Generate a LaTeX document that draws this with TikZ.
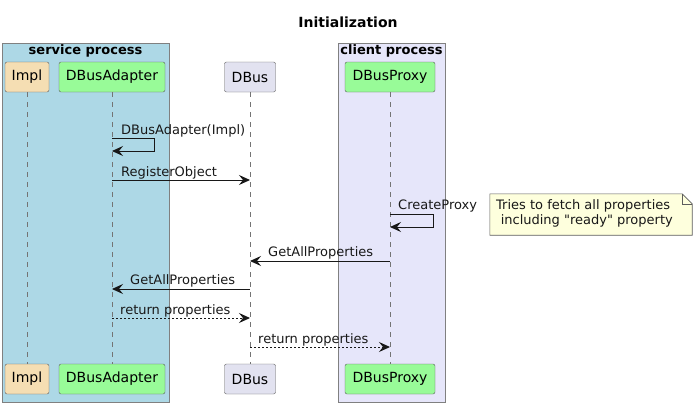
\documentclass[tikz,border=0pt]{standalone}
\usepackage{fontspec}
\setmainfont{DejaVu Sans}
\usetikzlibrary{arrows.meta,positioning}
\definecolor{servicebg}{HTML}{ADD8E6}
\definecolor{clientbg}{HTML}{E6E6FA}
\definecolor{implfill}{HTML}{F5DEB3}
\definecolor{greenfill}{HTML}{98FB98}
\definecolor{busfill}{HTML}{E2E2F0}
\definecolor{notefill}{HTML}{FEFFDD}
\definecolor{ink}{HTML}{181818}
\tikzstyle{part}=[draw=ink!70, rounded corners=2pt, minimum height=30pt,
  inner sep=0pt, font=\fontsize{14}{16}\selectfont]
\tikzstyle{group}=[draw=ink!55, line width=0.8pt]
\tikzstyle{life}=[draw=ink!60, line width=0.5pt, dash pattern=on 5pt off 5pt]
\tikzstyle{msg}=[-{Stealth[length=11pt,width=10pt,inset=4pt]}, ink, line width=1pt]
\tikzstyle{reply}=[msg, dash pattern=on 2pt off 2pt]
\tikzstyle{lbl}=[font=\fontsize{13}{15}\selectfont, inner sep=0pt, text=ink]

\begin{document}
\begin{tikzpicture}[x=1pt, y=-1pt, on grid, node distance=302pt]
  \useasboundingbox (0,0) rectangle (697,405);
  \node[font=\bfseries\fontsize{14}{16}\selectfont, anchor=base] (title) at (348,27) {Initialization};

  % process groups
  \filldraw[group, fill=servicebg] (2,43) rectangle (169,402);
  \filldraw[group, fill=clientbg] (338,43) rectangle (445,402);
  \node[font=\bfseries\fontsize{13}{15}\selectfont, anchor=base] (svc) at (85.5,54.5) {service process};
  \node[font=\bfseries\fontsize{13}{15}\selectfont, anchor=base] (cli) at (391.5,54.5) {client process};

  % participants
  \node[part, fill=implfill, minimum width=44pt]   (impl)    at (27,77)  {Impl};
  \node[part, fill=greenfill, minimum width=106pt] (adapter) at (112,77) {DBusAdapter};
  \node[part, fill=busfill, minimum width=51pt]    (dbus)    at (250,77) {DBus};
  \node[part, fill=greenfill, minimum width=90pt]  (proxy)   at (390,77) {DBusProxy};
  \node[part, fill=implfill, minimum width=44pt, below=of impl]       (impl2)    {Impl};
  \node[part, fill=greenfill, minimum width=106pt, below=of adapter]  (adapter2) {DBusAdapter};
  \node[part, fill=busfill, minimum width=51pt, below=of dbus]        (dbus2)    {DBus};
  \node[part, fill=greenfill, minimum width=90pt, below=of proxy]     (proxy2)   {DBusProxy};

  \draw[life] (impl) -- (impl2);
  \draw[life] (adapter) -- (adapter2);
  \draw[life] (dbus) -- (dbus2);
  \draw[life] (proxy) -- (proxy2);

  % messages
  \draw[msg] (adapter |- 0,138) -- ++(42,0) -- ++(0,13) -- (adapter |- 0,151);
  \node[lbl, anchor=base west] (m1) at (121,134) {DBusAdapter(Impl)};

  \draw[msg] (adapter |- 0,180) -- (dbus |- 0,180);
  \node[lbl, anchor=base west] (m2) at (121,176) {RegisterObject};

  \draw[msg] (proxy |- 0,214) -- ++(43,0) -- ++(0,13) -- (proxy |- 0,227);
  \node[lbl, anchor=base west] (m3) at (398,209.5) {CreateProxy};

  \node[minimum width=202pt, minimum height=41pt, inner sep=0pt] (note) at (591,214.5) {};
  \filldraw[draw=ink!70, fill=notefill, line width=0.6pt]
    (note.north west) -- ([xshift=-10pt]note.north east) -- ([yshift=-10pt]note.north east)
    -- (note.south east) -- (note.south west) -- cycle;
  \draw[draw=ink!70, line width=0.6pt] ([xshift=-10pt]note.north east)
    -- ([xshift=-10pt,yshift=-10pt]note.north east) -- ([yshift=-10pt]note.north east);
  \node[lbl, anchor=north west, align=left, font=\fontsize{13}{15}\selectfont] (notetext) at (496,199)
    {Tries to fetch all properties\\\hspace*{0.35em}including \textquotedbl ready\textquotedbl{} property};

  \draw[msg] (proxy |- 0,261) -- (dbus |- 0,261);
  \node[lbl, anchor=base west] (m4) at (268,256) {GetAllProperties};

  \draw[msg] (dbus |- 0,289) -- (adapter |- 0,289);
  \node[lbl, anchor=base west] (m5) at (130,284.5) {GetAllProperties};

  \draw[reply] (adapter |- 0,318) -- (dbus |- 0,318);
  \node[lbl, anchor=base west] (m6) at (120,314) {return properties};

  \draw[reply] (dbus |- 0,347) -- (proxy |- 0,347);
  \node[lbl, anchor=base west] (m7) at (258,343) {return properties};
\end{tikzpicture}
\end{document}
